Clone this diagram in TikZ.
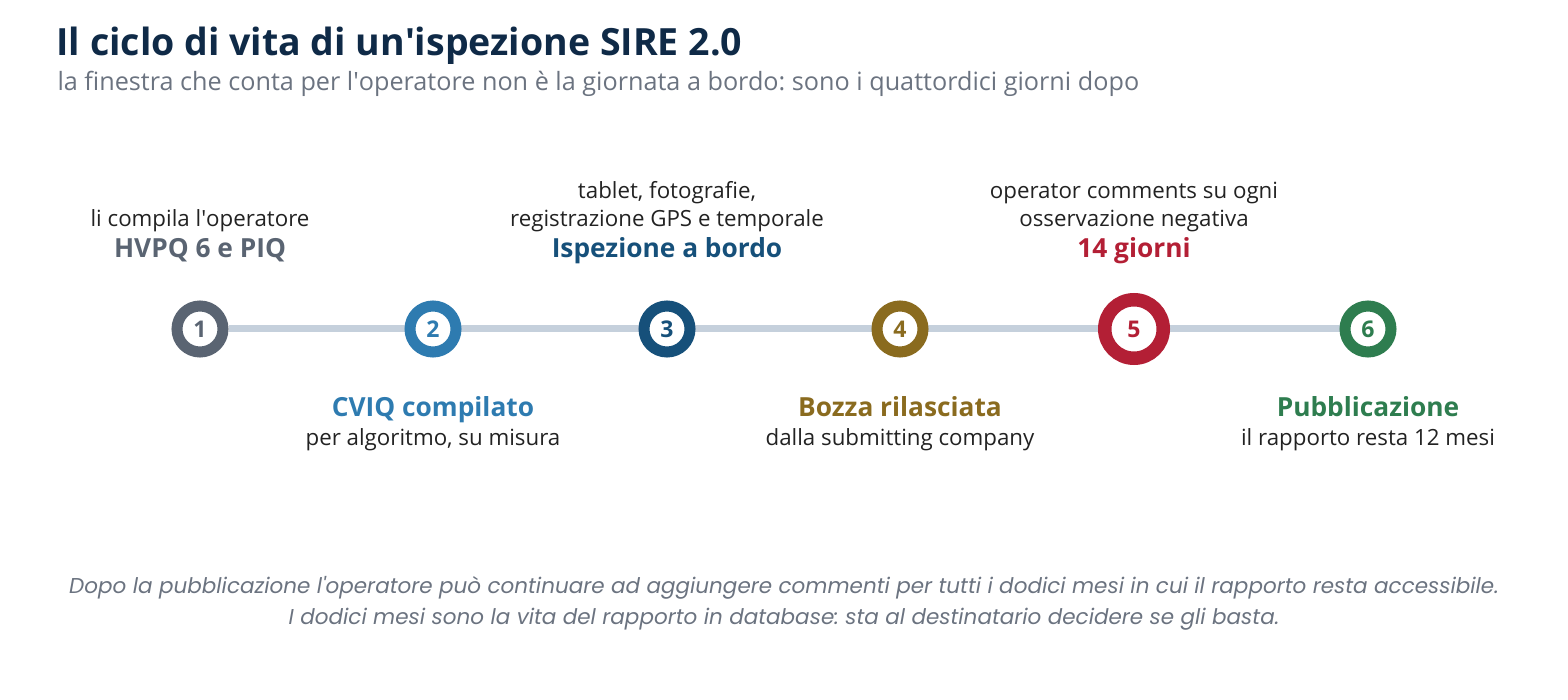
\documentclass[tikz,border=0pt]{standalone}
\usepackage{fontspec}
\setmainfont{Open Sans}
\newfontfamily\footfont{Poppins}
\usetikzlibrary{backgrounds}
\frenchspacing

\definecolor{titlecol}{HTML}{0F2A47}
\definecolor{subcol}{HTML}{6B7380}
\definecolor{bodycol}{HTML}{222222}
\definecolor{trackcol}{HTML}{C5D0DC}
\definecolor{grayc}{HTML}{5A6472}
\definecolor{bluec}{HTML}{2E7BB0}
\definecolor{navyc}{HTML}{16507A}
\definecolor{olivec}{HTML}{8A6B1F}
\definecolor{redc}{HTML}{B31F35}
\definecolor{greenc}{HTML}{2E7D4F}
\newcommand{\ap}{\textquotesingle}

\tikzset{
  stepdot/.style={circle, draw=#1, text=#1, fill=white, line width=11pt,
    minimum size=46pt, inner sep=0pt, font=\fontsize{23}{23}\selectfont\bfseries},
  bigdot/.style={stepdot=#1, line width=13.5pt, minimum size=58.5pt},
  note/.style={anchor=base, text=bodycol, font=\fontsize{22.3}{28}\selectfont, align=center},
  head/.style={anchor=base, text=#1, font=\fontsize{26.3}{28}\selectfont\bfseries}
}

\begin{document}
\begin{tikzpicture}[x=1pt, y=-1pt]
    \useasboundingbox (0,0) rectangle (1568,700);
    \node[anchor=base west, text=titlecol, font=\fontsize{37.5}{40}\selectfont\bfseries]
      (title) at (53,56) {Il ciclo di vita di un\ap ispezione SIRE 2.0};
    \node[anchor=base west, text=subcol, font=\fontsize{25.2}{26}\selectfont]
      (subtitle) at (54,91) {la finestra che conta per l\ap operatore non è la giornata a bordo: sono i quattordici giorni dopo};

    \node[stepdot=grayc]  (step1) at (200,329) {1};
    \node[stepdot=bluec]  (step2) at (433,329) {2};
    \node[stepdot=navyc]  (step3) at (667,329) {3};
    \node[stepdot=olivec] (step4) at (900,329) {4};
    \node[bigdot=redc]    (step5) at (1134,329) {5};
    \node[stepdot=greenc] (step6) at (1368,329) {6};
    \begin{scope}[on background layer]
      \draw[trackcol, line width=7pt] (step1) -- (step6);
    \end{scope}

    \node[note] (note1) at (200,227) {li compila l\ap operatore};
    \node[head=grayc] (head1) at (200,258) {HVPQ 6 e PIQ};
    \node[note] (note3) at (667,227) {tablet, fotografie,\\registrazione GPS e temporale};
    \node[head=navyc] (head3) at (667,258) {Ispezione a bordo};
    \node[note] (note5) at (1134,227) {operator comments su ogni\\osservazione negativa};
    \node[head=redc] (head5) at (1134,258) {14 giorni};

    \node[head=bluec] (head2) at (433,416) {CVIQ compilato};
    \node[note] (note2) at (433,445) {per algoritmo, su misura};
    \node[head=olivec] (head4) at (900,416) {Bozza rilasciata};
    \node[note] (note4) at (900,445) {dalla submitting company};
    \node[head=greenc] (head6) at (1368,416) {Pubblicazione};
    \node[note] (note6) at (1368,445) {il rapporto resta 12 mesi};

    \node[anchor=base, text=subcol, font=\footfont\fontsize{21.5}{31}\selectfont\itshape, align=center]
      (footer) at (784,624) {Dopo la pubblicazione l\ap operatore può continuare ad aggiungere commenti per tutti i dodici mesi in cui il rapporto resta accessibile.\\I dodici mesi sono la vita del rapporto in database: sta al destinatario decidere se gli basta.};
\end{tikzpicture}
\end{document}
